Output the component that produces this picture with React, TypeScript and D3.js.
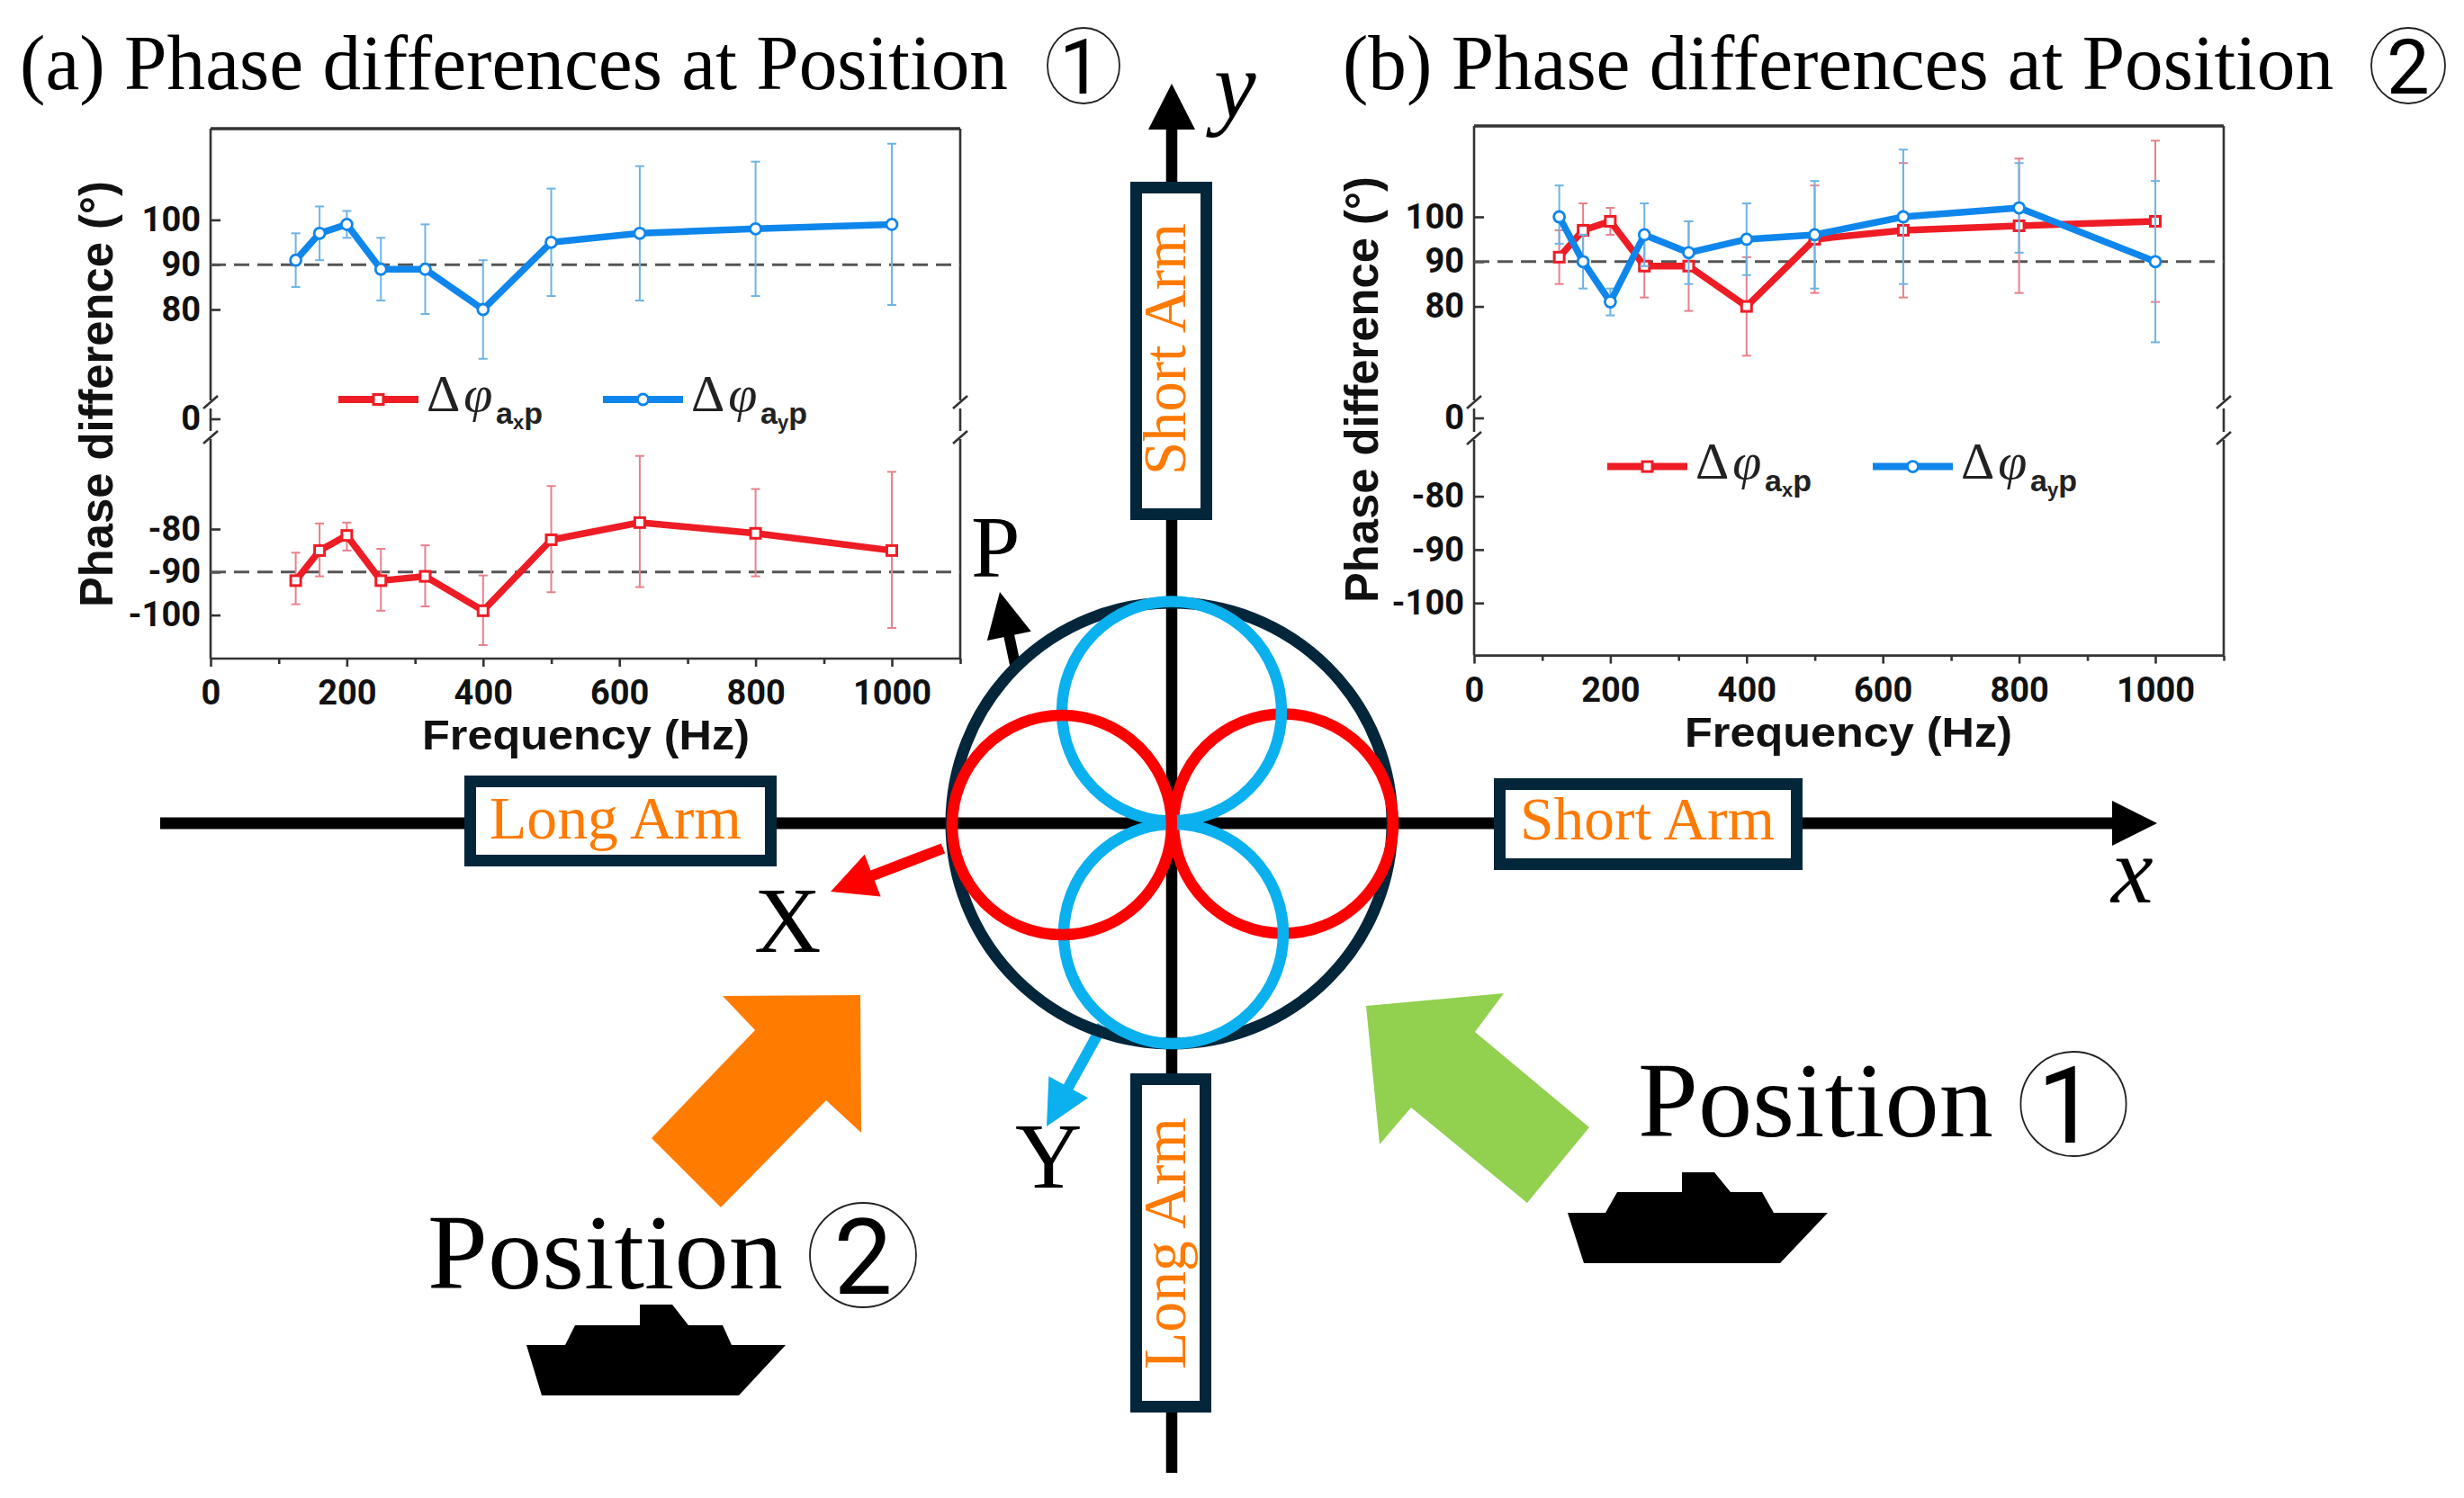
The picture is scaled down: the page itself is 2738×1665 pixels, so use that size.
import React, { useEffect, useRef } from 'react';
import * as d3 from 'd3';

const WIDTH = 2738;
const HEIGHT = 1665;

const SERIF = '"Liberation Serif", serif';
const SANS = '"Liberation Sans", sans-serif';
const DIGITS = 'Roboto, sans-serif';
const RED = '#ee1c25';
const BLUE = '#0f86ec';
const RED_ERR = '#e8808a';
const BLUE_ERR = '#6db4e6';
const NAVY = '#03263a';
const ORANGE = '#ff7a00';
const CYAN = '#0bb0ee';

// values
const frequencies = [125, 160, 200, 250, 315, 400, 500, 630, 800, 1000];

const axPhaseA = [-92, -85, -81.5, -92, -91, -99, -82.5, -78.5, -81, -85];
const axHighA = [-85.5, -78.7, -78.5, -84.6, -83.8, -90.8, -70, -63, -70.7, -66.7];
const axLowA = [-97.5, -91, -85, -99, -98, -107, -94.7, -93.5, -91, -103];
const ayPhaseA = [91, 97, 99, 89, 89, 80, 95, 97, 98, 99];
const ayHighA = [97, 103, 102, 96, 99, 91, 107, 112, 113, 117];
const ayLowA = [85, 91, 96, 82, 79, 69, 83, 82, 83, 81];

const axPhaseB = [91, 97, 99, 89, 89, 80, 95, 97, 98, 99];
const axHighB = [97, 103, 102, 96, 99, 91, 107, 112, 113, 117];
const axLowB = [85, 91, 96, 82, 79, 69, 83, 82, 83, 81];
const ayPhaseB = [100, 90, 81, 96, 92, 95, 96, 100, 102, 90];
const ayHighB = [107, 96, 84, 103, 99, 103, 108, 115, 112, 108];
const ayLowB = [94, 84, 78, 89, 85, 87, 84, 85, 92, 72];

const majorFreqTicks = [0, 200, 400, 600, 800, 1000];
const minorFreqTicks = [100, 300, 500, 700, 900, 1100];
const upperTicks = [80, 90, 100];
const lowerTicks = [-100, -90, -80];

type Pt = [number, number];
const path = d3.line<Pt>();
const plain = (d: any) => String(d);

function drawPanel(root: any, cfg: any) {
  const g = root.append('g');
  const { left, right, top, bottom, x1000 } = cfg;

  const x = d3.scaleLinear().domain([0, 1000]).range([left, x1000]);
  const yUp = d3.scaleLinear().domain([80, 100]).range(cfg.upperRange);
  const yLow = d3.scaleLinear().domain([-100, -80]).range(cfg.lowerRange);
  const yZero = d3.scaleLinear().domain([0, 1]).range([cfg.zeroY, cfg.zeroY - 1]);
  const y = (v: number) => (v > 0 ? yUp(v) : yLow(v));

  const seg = (p: Pt[], w = 2.6) =>
    g.append('path').attr('d', path(p)).attr('stroke', '#333').attr('stroke-width', w).attr('fill', 'none');

  // frame with the broken sides
  seg([[left, top], [right, top]], 3.5);
  seg([[left, bottom], [right, bottom]]);
  [left, right].forEach((sx) => {
    seg([[sx, top], [sx, cfg.break1]]);
    seg([[sx, cfg.break1 + 9], [sx, cfg.break2 - 9]]);
    seg([[sx, cfg.break2], [sx, bottom]]);
    seg([[sx - 8, cfg.break1 + 9], [sx + 8, cfg.break1 - 5]]);
    seg([[sx - 8, cfg.break2 + 5], [sx + 8, cfg.break2 - 9]]);
  });

  // axes
  const styleAxis = (a: any) => {
    a.select('.domain').remove();
    a.selectAll('line').attr('stroke', '#333').attr('stroke-width', 2.6);
    a.selectAll('text')
      .attr('fill', '#111')
      .attr('font-family', DIGITS)
      .attr('font-weight', 700)
      .attr('font-size', 38);
  };
  const axisBottom = g.append('g').attr('transform', `translate(0,${bottom})`);
  axisBottom.call(d3.axisBottom(x).tickValues(majorFreqTicks).tickSize(9).tickPadding(15).tickFormat(plain));
  styleAxis(axisBottom);
  const minor = g.append('g').attr('transform', `translate(0,${bottom})`);
  const xExt = x.copy().domain([0, 1100]).range([left, right]);
  minor.call(d3.axisBottom(xExt).tickValues(minorFreqTicks).tickSize(6).tickFormat(() => ''));
  styleAxis(minor);

  const leftAxis = (scale: any, ticks: number[]) => {
    const a = g.append('g').attr('transform', `translate(${left},0)`);
    a.call(d3.axisLeft(scale).tickValues(ticks).tickSizeInner(-11).tickSizeOuter(0).tickPadding(11).tickFormat(plain));
    styleAxis(a);
  };
  leftAxis(yUp, upperTicks);
  leftAxis(yLow, lowerTicks);
  leftAxis(yZero, [0]);

  // reference lines
  cfg.refLines.forEach((v: number) => {
    g.append('line')
      .attr('x1', left).attr('x2', right)
      .attr('y1', y(v)).attr('y2', y(v))
      .attr('stroke', '#555').attr('stroke-width', 3).attr('stroke-dasharray', '17 9');
  });

  // series
  const line = d3.line<number>().x((_, i) => x(frequencies[i])).y((d) => y(d));
  cfg.series.forEach((s: any) => {
    const sg = g.append('g');
    s.values.forEach((_: number, i: number) => {
      const px = x(frequencies[i]);
      sg.append('line').attr('x1', px).attr('x2', px).attr('y1', y(s.high[i])).attr('y2', y(s.low[i]))
        .attr('stroke', s.err).attr('stroke-width', 2);
      [s.high[i], s.low[i]].forEach((v: number) => {
        sg.append('line').attr('x1', px - 5).attr('x2', px + 5).attr('y1', y(v)).attr('y2', y(v))
          .attr('stroke', s.err).attr('stroke-width', 2);
      });
    });
    sg.append('path').attr('d', line(s.values)).attr('fill', 'none')
      .attr('stroke', s.color).attr('stroke-width', 7.5).attr('stroke-linejoin', 'miter');
    s.values.forEach((v: number, i: number) => marker(sg, x(frequencies[i]), y(v), s));
  });

  // legend
  cfg.series.forEach((s: any, i: number) => {
    const l = cfg.legend[i];
    g.append('line').attr('x1', l.x0).attr('x2', l.x0 + 89).attr('y1', cfg.legendY).attr('y2', cfg.legendY)
      .attr('stroke', s.color).attr('stroke-width', 8);
    marker(g, l.x0 + 44.5, cfg.legendY, s);
    const t = g.append('text').attr('x', l.x0 + 98).attr('y', cfg.legendY + 13)
      .attr('font-family', SERIF).attr('font-size', 58).attr('fill', '#222');
    t.append('tspan').text('Δ');
    t.append('tspan').attr('font-style', 'italic').attr('dx', 4).text('φ');
    const sub = g.append('text').attr('x', l.x0 + 175).attr('y', cfg.legendY + 27)
      .attr('font-family', SANS).attr('font-weight', 700).attr('font-size', 34).attr('fill', '#222');
    sub.append('tspan').text('a');
    sub.append('tspan').attr('font-size', 22).attr('dy', 6).text(s.sub);
    sub.append('tspan').attr('dy', -6).text('p');
  });

  // axis titles
  g.append('text').attr('x', cfg.xTitleX).attr('y', cfg.xTitleY).attr('textLength', 364)
    .attr('lengthAdjust', 'spacingAndGlyphs').attr('font-family', SANS).attr('font-weight', 700)
    .attr('font-size', 47).attr('fill', '#111').text('Frequency (Hz)');
  g.append('text').attr('transform', `translate(${cfg.yTitleX},${cfg.yTitleBottom}) rotate(-90)`)
    .attr('textLength', 474).attr('lengthAdjust', 'spacingAndGlyphs').attr('font-family', SANS)
    .attr('font-weight', 700).attr('font-size', 52).attr('fill', '#111').text('Phase difference (°)');
}

function marker(g: any, px: number, py: number, s: any) {
  if (s.shape === 'square') {
    g.append('rect').attr('x', px - 5.5).attr('y', py - 5.5).attr('width', 11).attr('height', 11)
      .attr('fill', '#fff').attr('stroke', s.color).attr('stroke-width', 3);
  } else {
    g.append('circle').attr('cx', px).attr('cy', py).attr('r', 6)
      .attr('fill', '#fff').attr('stroke', s.color).attr('stroke-width', 2.8);
  }
}

function arrow(g: any, from: Pt, to: Pt, color: string) {
  const angle = Math.atan2(to[1] - from[1], to[0] - from[0]);
  const len = Math.hypot(to[0] - from[0], to[1] - from[1]);
  const a = g.append('g').attr('transform', `translate(${from[0]},${from[1]}) rotate(${(angle * 180) / Math.PI})`);
  a.append('line').attr('x1', 0).attr('x2', len - 45).attr('y1', 0).attr('y2', 0)
    .attr('stroke', color).attr('stroke-width', 12);
  a.append('path').attr('d', path([[len, 0], [len - 50, -25], [len - 50, 25]]) + 'Z').attr('fill', color);
}

function armBox(g: any, x0: number, y0: number, x1: number, y1: number) {
  g.append('rect').attr('x', x0 + 6.5).attr('y', y0 + 6.5).attr('width', x1 - x0 - 13).attr('height', y1 - y0 - 13)
    .attr('fill', '#fff').attr('stroke', NAVY).attr('stroke-width', 13);
}

function label(g: any, txt: string, x: number, y: number, size: number, opts: any = {}) {
  const t = g.append('text').attr('x', x).attr('y', y).attr('font-size', size)
    .attr('font-family', opts.family || SERIF).attr('fill', opts.fill || '#000').text(txt);
  if (opts.italic) t.attr('font-style', 'italic');
  if (opts.weight) t.attr('font-weight', opts.weight);
  if (opts.length) t.attr('textLength', opts.length).attr('lengthAdjust', 'spacingAndGlyphs');
  if (opts.anchor) t.attr('text-anchor', opts.anchor);
  if (opts.rotate) t.attr('transform', `rotate(-90,${x},${y})`);
  return t;
}

function circled(g: any, digit: string, cx: number, cy: number, rx: number, ry: number, size: number, base: number, dx = 0) {
  g.append('ellipse').attr('cx', cx).attr('cy', cy).attr('rx', rx).attr('ry', ry)
    .attr('fill', 'none').attr('stroke', '#222').attr('stroke-width', 1.8);
  label(g, digit, cx + dx, base, size, { family: DIGITS, anchor: 'middle', weight: 400 });
}

const orangeArrow: Pt[] = [[803, 1107], [956, 1106], [957, 1259], [918, 1223], [801, 1342], [724, 1265], [839, 1145]];
const greenArrow: Pt[] = [[1518, 1118], [1671, 1104], [1639, 1147], [1766, 1253], [1697, 1337], [1568, 1231], [1533, 1272]];
const shipOne: Pt[] = [[1742, 1348], [1784, 1348], [1797, 1325], [1869, 1325], [1869, 1303], [1905, 1303], [1923, 1325], [1958, 1325], [1971, 1348], [2031, 1348], [1978, 1404], [1760, 1404]];
const shipTwo: Pt[] = [[585, 1495], [628, 1495], [639, 1473], [711, 1473], [711, 1450], [747, 1450], [765, 1473], [803, 1473], [813, 1495], [873, 1495], [821, 1551], [602, 1551]];

function drawDiagram(root: any) {
  const g = root.append('g');
  const cx = 1302;
  const cy = 915;

  // coordinate axes
  g.append('line').attr('x1', 178).attr('x2', 2350).attr('y1', cy).attr('y2', cy).attr('stroke', '#000').attr('stroke-width', 13);
  g.append('path').attr('d', path([[2397, cy], [2347, cy - 25], [2347, cy + 25]]) + 'Z').attr('fill', '#000');
  g.append('line').attr('x1', cx).attr('x2', cx).attr('y1', 1637).attr('y2', 140).attr('stroke', '#000').attr('stroke-width', 12.5);
  g.append('path').attr('d', path([[cx, 93], [cx - 26, 144], [cx + 26, 144]]) + 'Z').attr('fill', '#000');

  armBox(g, 516, 862, 863, 963);
  armBox(g, 1660, 865, 2003, 967);
  armBox(g, 1256, 202, 1347, 578);
  armBox(g, 1256, 1193, 1346, 1570);

  label(g, 'Long Arm', 544, 932, 68, { fill: ORANGE, length: 280 });
  label(g, 'Short Arm', 1689, 933, 68, { fill: ORANGE, length: 283 });
  label(g, 'Short Arm', 1317, 528, 68, { fill: ORANGE, length: 280, rotate: true });
  label(g, 'Long Arm', 1317, 1522, 68, { fill: ORANGE, length: 280, rotate: true });

  // rings
  arrow(g, [1128.5, 741], [1111, 658], '#000');
  arrow(g, [1048, 943], [923, 991], '#ff0000');
  arrow(g, [1225, 1140], [1163, 1252], CYAN);
  const ring = (x: number, y: number, r: number, c: string, w: number) =>
    g.append('circle').attr('cx', x).attr('cy', y).attr('r', r).attr('fill', 'none').attr('stroke', c).attr('stroke-width', w);
  ring(cx, cy, 245, NAVY, 13);
  ring(1426, 915.5, 122, '#ff0000', 12.5);
  ring(1302, 790.5, 122, CYAN, 12.5);
  ring(1304, 1038, 122, CYAN, 12.5);
  ring(1180, 917, 122, '#ff0000', 12.5);

  // big arrows and ships
  g.append('path').attr('d', path(orangeArrow) + 'Z').attr('fill', '#ff7c00');
  g.append('path').attr('d', path(greenArrow) + 'Z').attr('fill', '#92d050');
  g.append('path').attr('d', path(shipOne) + 'Z').attr('fill', '#000');
  g.append('path').attr('d', path(shipTwo) + 'Z').attr('fill', '#000');

  // letters
  label(g, 'y', 1349, 130, 105, { italic: true });
  label(g, 'x', 2346, 1003, 105, { italic: true });
  label(g, 'P', 1079, 641, 98);
  label(g, 'X', 838, 1058, 103);
  label(g, 'Y', 1128, 1320, 103);

  // titles
  label(g, '(a) Phase differences at Position', 22, 99, 87, { length: 1098 });
  circled(g, '1', 1204, 73, 40, 42, 85, 104, -3);
  label(g, '(b) Phase differences at Position', 1492, 99, 87, { length: 1101 });
  circled(g, '2', 2676, 73, 41, 42, 85, 104);

  label(g, 'Position', 1820, 1263, 118, { length: 395 });
  circled(g, '1', 2304, 1227, 58.6, 58, 118, 1270, -7);
  label(g, 'Position', 475, 1432, 118, { length: 395 });
  circled(g, '2', 959, 1395, 59, 58, 116, 1438);
}

const App: React.FC = () => {
  const svgRef = useRef<SVGSVGElement>(null);

  useEffect(() => {
    if (!svgRef.current) return;
    const svg = d3.select(svgRef.current);
    svg.selectAll('*').remove();

    drawDiagram(svg);

    drawPanel(svg, {
      left: 234, right: 1067, top: 143, bottom: 732, x1000: 991,
      upperRange: [344, 244.4], lowerRange: [683.6, 588], zeroY: 465.5,
      break1: 445, break2: 488, refLines: [90, -90],
      legendY: 444,
      legend: [{ x0: 376 }, { x0: 670 }],
      xTitleX: 469, xTitleY: 833, yTitleX: 125, yTitleBottom: 675,
      series: [
        { values: axPhaseA, high: axHighA, low: axLowA, color: RED, err: RED_ERR, shape: 'square', sub: 'x' },
        { values: ayPhaseA, high: ayHighA, low: ayLowA, color: BLUE, err: BLUE_ERR, shape: 'circle', sub: 'y' },
      ],
    });

    drawPanel(svg, {
      left: 1638, right: 2471, top: 140, bottom: 728.6, x1000: 2395,
      upperRange: [340.6, 241], lowerRange: [670.2, 551.6], zeroY: 464.5,
      break1: 445, break2: 489, refLines: [90],
      legendY: 518.6,
      legend: [{ x0: 1786 }, { x0: 2081 }],
      xTitleX: 1872, xTitleY: 830, yTitleX: 1531, yTitleBottom: 670,
      series: [
        { values: axPhaseB, high: axHighB, low: axLowB, color: RED, err: RED_ERR, shape: 'square', sub: 'x' },
        { values: ayPhaseB, high: ayHighB, low: ayLowB, color: BLUE, err: BLUE_ERR, shape: 'circle', sub: 'y' },
      ],
    });
  }, []);

  return (
    <svg
      ref={svgRef}
      width={WIDTH}
      height={HEIGHT}
      style={{ position: 'absolute', left: 0, top: 0, background: '#fff' }}
    />
  );
};

export default App;
